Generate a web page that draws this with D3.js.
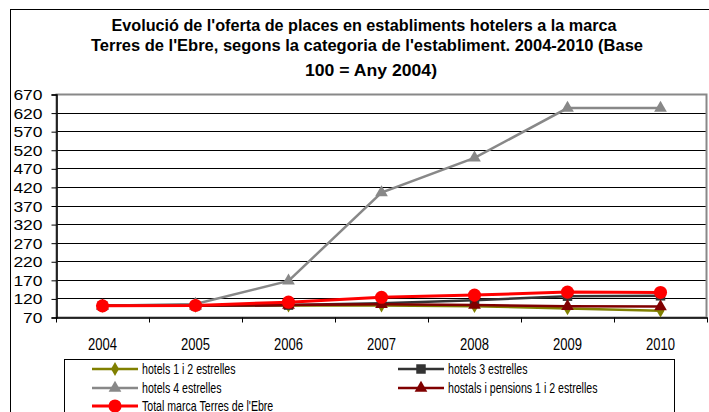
<!DOCTYPE html>
<html>
<head>
<meta charset="utf-8">
<script src="https://cdn.jsdelivr.net/npm/d3@7/dist/d3.min.js"></script>
<style>
  body { margin: 0; background: #fff; }
  text { font-family: Arial, "Liberation Sans", sans-serif; fill: #000; }
</style>
</head>
<body>
<script>
var years = ["2004", "2005", "2006", "2007", "2008", "2009", "2010"];
var yTicks = [70, 120, 170, 220, 270, 320, 370, 420, 470, 520, 570, 620, 670];

var hotels12 = [100, 100, 101, 101, 99, 93, 87];
var hotels3 = [100, 100, 102, 107, 115, 126, 127];
var hotels4 = [100, 105, 167, 405, 498, 632, 632];
var hostals = [100, 100, 102, 104, 102, 99, 98];
var total = [100, 101, 110, 123, 129, 137, 136];

var titleLines = [
  "Evolució de l'oferta de places en establiments hotelers a la marca",
  "Terres de l'Ebre, segons la categoria de l'establiment. 2004-2010 (Base",
  "100 = Any 2004)"
];

var series = [
  { name: "hotels 1 i 2 estrelles", values: hotels12, color: "#808000", symbol: d3.symbolDiamond, size: 55, width: 2.5 },
  { name: "hotels 3 estrelles", values: hotels3, color: "#333333", symbol: d3.symbolSquare, size: 90, width: 2.5 },
  { name: "hotels 4 estrelles", values: hotels4, color: "#888888", symbol: d3.symbolTriangle, size: 70, width: 2.5 },
  { name: "hostals i pensions 1 i 2 estrelles", values: hostals, color: "#800000", symbol: d3.symbolTriangle, size: 70, width: 2.5 },
  { name: "Total marca Terres de l'Ebre", values: total, color: "#ff0000", symbol: d3.symbolCircle, size: 135, width: 3 }
];

var W = 709, H = 412;
var plotL = 56, plotR = 707, plotT = 94, plotB = 317;

var svg = d3.select("body").append("svg")
  .attr("width", W)
  .attr("height", H);

// outer chart frame
svg.append("rect")
  .attr("x", 10.5).attr("y", 9.5)
  .attr("width", 720).attr("height", 420)
  .attr("fill", "none").attr("stroke", "#000");

// title
var titleWidths = [505, 552, 132];
var titleBase = [31, 51, 76];
svg.selectAll(".title").data(titleLines).enter().append("text")
  .attr("class", "title")
  .attr("x", function(d, i) { return [364, 367, 371][i]; })
  .attr("y", function(d, i) { return titleBase[i]; })
  .attr("text-anchor", "middle")
  .attr("font-size", 16)
  .attr("font-weight", "bold")
  .attr("textLength", function(d, i) { return titleWidths[i]; })
  .attr("lengthAdjust", "spacingAndGlyphs")
  .text(function(d) { return d; });

var x = d3.scaleBand().domain(years).range([plotL, plotR]).padding(0);
var y = d3.scaleLinear().domain([70, 670]).range([plotB, plotT]);

// gridlines
svg.append("g").selectAll("line").data(yTicks).enter().append("line")
  .attr("x1", plotL).attr("x2", plotR)
  .attr("y1", function(d) { return Math.round(y(d)) + 0.5; })
  .attr("y2", function(d) { return Math.round(y(d)) + 0.5; })
  .attr("stroke", "#000").attr("stroke-width", 1);

// plot area border (grey)
svg.append("rect")
  .attr("x", plotL + 0.5).attr("y", Math.round(plotT) + 0.5)
  .attr("width", plotR - plotL - 1).attr("height", plotB - plotT)
  .attr("fill", "none").attr("stroke", "#888").attr("stroke-width", 2);

// y axis
var yAxis = svg.append("g")
  .attr("transform", "translate(" + (plotL + 0.5) + ",0.5)")
  .call(d3.axisLeft(y).tickValues(yTicks).tickSize(5).tickPadding(9));
yAxis.select(".domain").attr("stroke", "#000").attr("stroke-width", 1.5);
yAxis.selectAll(".tick line").attr("stroke", "#000");
yAxis.selectAll(".tick text")
  .attr("font-size", 14)
  .attr("font-family", "Arial, 'Liberation Sans', sans-serif")
  .attr("fill", "#000")
  .attr("dy", "0.36em")
  .attr("textLength", function(d) { return String(d).length * 9.7; })
  .attr("lengthAdjust", "spacingAndGlyphs");

// x axis
var xAxis = svg.append("g")
  .attr("transform", "translate(0," + (plotB + 0.5) + ")")
  .call(d3.axisBottom(x).tickSize(0).tickPadding(20));
xAxis.select(".domain").attr("stroke", "#000").attr("stroke-width", 1.5);
xAxis.selectAll(".tick text")
  .attr("font-size", 17)
  .attr("font-family", "Arial, 'Liberation Sans', sans-serif")
  .attr("fill", "#000")
  .attr("textLength", 29)
  .attr("lengthAdjust", "spacingAndGlyphs");
// tick marks between categories
var bounds = years.map(function(d) { return x(d); }).concat([x(years[years.length - 1]) + x.bandwidth()]);
xAxis.selectAll(".bound").data(bounds).enter().append("line")
  .attr("class", "bound")
  .attr("x1", function(d) { return Math.round(d) + 0.5; })
  .attr("x2", function(d) { return Math.round(d) + 0.5; })
  .attr("y1", 0).attr("y2", 5)
  .attr("stroke", "#000");

var cx = function(d, i) { return x(years[i]) + x.bandwidth() / 2; };

var line = d3.line()
  .x(function(d, i) { return cx(d, i); })
  .y(function(d) { return y(d); });

series.forEach(function(s) {
  var g = svg.append("g");
  g.append("path")
    .attr("d", line(s.values))
    .attr("fill", "none")
    .attr("stroke", s.color)
    .attr("stroke-width", s.width);
  g.selectAll("path.m").data(s.values).enter().append("path")
    .attr("class", "m")
    .attr("d", d3.symbol().type(s.symbol).size(s.size))
    .attr("transform", function(d, i) { return "translate(" + cx(d, i) + "," + y(d) + ")"; })
    .attr("fill", s.color);
});

// legend
svg.append("rect")
  .attr("x", 64.5).attr("y", 359.5)
  .attr("width", 610).attr("height", 80)
  .attr("fill", "#fff").attr("stroke", "#000");

var legPos = [
  [92, 369], [398, 369],
  [92, 388], [398, 388],
  [92, 406]
];
series.forEach(function(s, i) {
  var p = legPos[i];
  var g = svg.append("g").attr("transform", "translate(" + p[0] + "," + p[1] + ")");
  g.append("line")
    .attr("x1", 0).attr("x2", 46)
    .attr("stroke", s.color).attr("stroke-width", s.width);
  g.append("path")
    .attr("d", d3.symbol().type(s.symbol).size(s.size))
    .attr("transform", "translate(23,0)")
    .attr("fill", s.color);
  var t = g.append("text")
    .attr("x", 50).attr("y", 5)
    .attr("font-size", 14.5)
    .text(s.name);
  var len = t.node().getComputedTextLength();
  t.attr("textLength", len * 0.73).attr("lengthAdjust", "spacingAndGlyphs");
});
</script>
</body>
</html>
